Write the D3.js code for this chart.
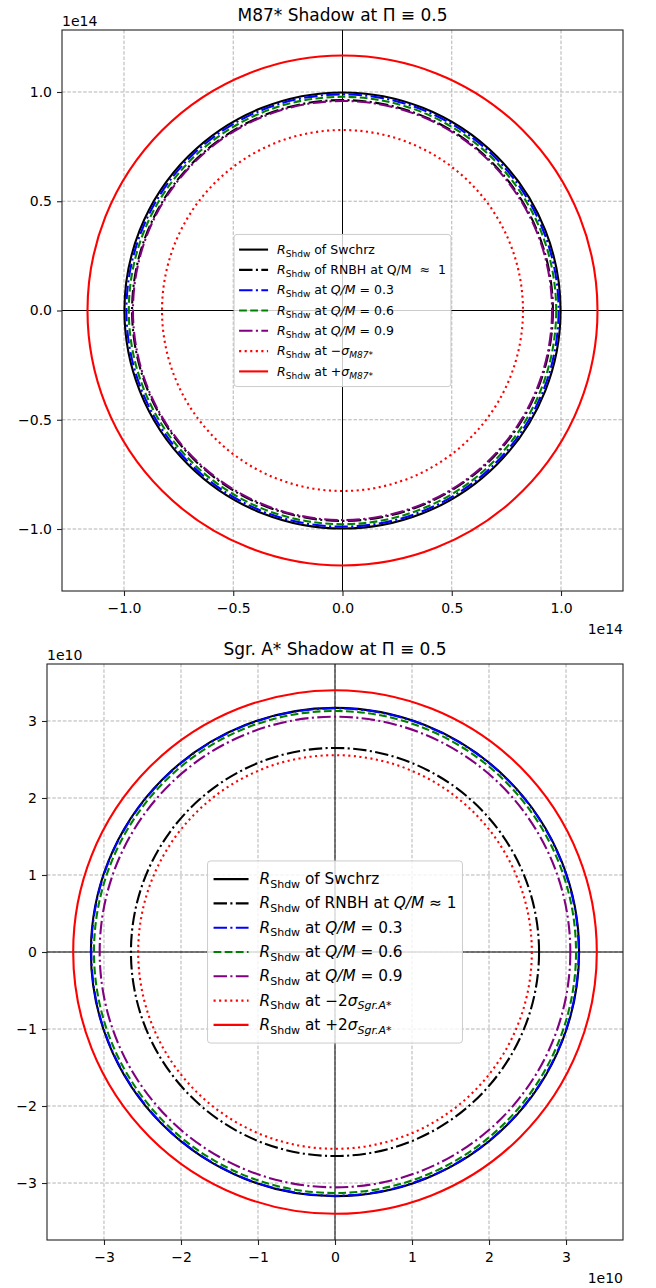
<!DOCTYPE html>
<html>
<head>
<meta charset="utf-8">
<script src="https://cdn.jsdelivr.net/npm/d3@7"></script>
<style>
  body { margin: 0; background: #fff; }
  text { font-family: "DejaVu Sans", sans-serif; white-space: pre; }
</style>
</head>
<body>
<div id="main"></div>
<script>
// shadow radii, order: Swchrz, RNBH, Q/M=0.3, 0.6, 0.9, -sigma, +sigma
const m87Radii = [0.998, 0.963, 0.989, 0.978, 0.959, 0.826, 1.167]; // x 1e14
const sgrRadii = [3.17, 2.65, 3.165, 3.13, 3.056, 2.556, 3.40];      // x 1e10

const seriesColors = ["black", "black", "blue", "green", "purple", "red", "red"];
const seriesStyles = ["solid", "dashdot", "dashdot", "dashed", "dashdot", "dotted", "solid"];

const m87Ticks = [-1.0, -0.5, 0, 0.5, 1.0];
const sgrTicks = [-3, -2, -1, 0, 1, 2, 3];

// label segments: [text, kind] kind: i = italic, sub = roman subscript, subi = italic subscript
const m87Labels = [
    [["R", "i"], ["Shdw", "sub"], [" of Swchrz"]],
    [["R", "i"], ["Shdw", "sub"], [" of RNBH at Q/M  \u2248  1"]],
    [["R", "i"], ["Shdw", "sub"], [" at "], ["Q/M", "i"], [" = 0.3"]],
    [["R", "i"], ["Shdw", "sub"], [" at "], ["Q/M", "i"], [" = 0.6"]],
    [["R", "i"], ["Shdw", "sub"], [" at "], ["Q/M", "i"], [" = 0.9"]],
    [["R", "i"], ["Shdw", "sub"], [" at \u2212"], ["\u03c3", "i"], ["M87*", "subi"]],
    [["R", "i"], ["Shdw", "sub"], [" at +"], ["\u03c3", "i"], ["M87*", "subi"]]
];
const sgrLabels = [
    [["R", "i"], ["Shdw", "sub"], [" of Swchrz"]],
    [["R", "i"], ["Shdw", "sub"], [" of RNBH at "], ["Q/M", "i"], [" \u2248 1"]],
    [["R", "i"], ["Shdw", "sub"], [" at "], ["Q/M", "i"], [" = 0.3"]],
    [["R", "i"], ["Shdw", "sub"], [" at "], ["Q/M", "i"], [" = 0.6"]],
    [["R", "i"], ["Shdw", "sub"], [" at "], ["Q/M", "i"], [" = 0.9"]],
    [["R", "i"], ["Shdw", "sub"], [" at \u22122"], ["\u03c3", "i"], ["Sgr.A*", "subi"]],
    [["R", "i"], ["Shdw", "sub"], [" at +2"], ["\u03c3", "i"], ["Sgr.A*", "subi"]]
];

const W = 656, H = 1288;
const LW = 2.1;
const dashes = {
    solid: null,
    dashed: [3.7, 1.6].map(v => v * LW).join(","),
    dashdot: [6.4, 1.6, 1, 1.6].map(v => v * LW).join(","),
    dotted: [1, 1.65].map(v => v * LW).join(",")
};

const svg = d3.select("#main").append("svg")
    .attr("width", W)
    .attr("height", H);

function drawPanel(cfg) {
    const lim = d3.max(cfg.radii) * 1.1;
    const x = d3.scaleLinear().domain([-lim, lim]).range([cfg.x0, cfg.x0 + cfg.size]);
    const y = d3.scaleLinear().domain([-lim, lim]).range([cfg.y0 + cfg.size, cfg.y0]);
    const g = svg.append("g");

    const clipId = "clip" + cfg.id;
    g.append("clipPath").attr("id", clipId)
        .append("rect")
        .attr("x", cfg.x0).attr("y", cfg.y0)
        .attr("width", cfg.size).attr("height", cfg.size);

    // grid
    g.selectAll("line.gx").data(cfg.ticks).enter().append("line")
        .attr("x1", d => x(d)).attr("x2", d => x(d))
        .attr("y1", cfg.y0).attr("y2", cfg.y0 + cfg.size)
        .attr("stroke", "#a0a0a0").attr("stroke-width", 0.8)
        .attr("stroke-dasharray", "3.5,1.8");
    g.selectAll("line.gy").data(cfg.ticks).enter().append("line")
        .attr("y1", d => y(d)).attr("y2", d => y(d))
        .attr("x1", cfg.x0).attr("x2", cfg.x0 + cfg.size)
        .attr("stroke", "#a0a0a0").attr("stroke-width", 0.8)
        .attr("stroke-dasharray", "3.5,1.8");

    // zero lines
    g.append("line")
        .attr("x1", x(0)).attr("x2", x(0))
        .attr("y1", cfg.y0).attr("y2", cfg.y0 + cfg.size)
        .attr("stroke", "black").attr("stroke-width", 1);
    g.append("line")
        .attr("y1", y(0)).attr("y2", y(0))
        .attr("x1", cfg.x0).attr("x2", cfg.x0 + cfg.size)
        .attr("stroke", "black").attr("stroke-width", 1);

    // circles
    g.append("g").attr("clip-path", `url(#${clipId})`)
        .selectAll("circle").data(cfg.radii).enter().append("circle")
        .attr("cx", x(0)).attr("cy", y(0))
        .attr("r", d => x(d) - x(0))
        .attr("fill", "none")
        .attr("stroke", (d, i) => seriesColors[i])
        .attr("stroke-width", LW)
        .attr("stroke-dasharray", (d, i) => dashes[seriesStyles[i]]);

    // spines
    g.append("rect")
        .attr("x", cfg.x0).attr("y", cfg.y0)
        .attr("width", cfg.size).attr("height", cfg.size)
        .attr("fill", "none").attr("stroke", "#222").attr("stroke-width", 1.1);

    // axes
    const xAxis = g.append("g")
        .attr("transform", `translate(0,${cfg.y0 + cfg.size})`)
        .call(d3.axisBottom(x).tickValues(cfg.ticks).tickFormat(cfg.fmt).tickSize(5).tickPadding(7).tickSizeOuter(0));
    const yAxis = g.append("g")
        .attr("transform", `translate(${cfg.x0},0)`)
        .call(d3.axisLeft(y).tickValues(cfg.ticks).tickFormat(cfg.fmt).tickSize(5).tickPadding(5).tickSizeOuter(0));
    [xAxis, yAxis].forEach(a => {
        a.select(".domain").remove();
        a.selectAll("line").attr("stroke", "#222").attr("stroke-width", 1.1);
        a.selectAll("text").attr("font-size", 14).attr("fill", "black")
            .attr("font-family", "DejaVu Sans");
    });

    // title and offset texts
    g.append("text")
        .attr("x", cfg.x0 + cfg.size / 2).attr("y", cfg.y0 - 9)
        .attr("text-anchor", "middle").attr("font-size", 17)
        .text(cfg.title);
    g.append("text")
        .attr("x", cfg.x0).attr("y", cfg.y0 - 4.5)
        .attr("font-size", 14).text(cfg.offset);
    g.append("text")
        .attr("x", cfg.x0 + cfg.size).attr("y", cfg.y0 + cfg.size + 42.5)
        .attr("text-anchor", "end").attr("font-size", 14).text(cfg.offset);

    // legend
    const L = cfg.legend;
    const lg = g.append("g");
    const box = lg.append("rect");
    const n = cfg.labels.length;
    const texts = [];
    cfg.labels.forEach((segs, i) => {
        const t = lg.append("text").attr("font-size", L.fs);
        let shifted = 0;
        segs.forEach(([s, kind]) => {
            const sp = t.append("tspan").text(s);
            const isSub = kind === "sub" || kind === "subi";
            if (kind === "i" || kind === "subi") sp.attr("font-style", "italic");
            if (isSub) sp.attr("font-size", L.fs * 0.72);
            const want = isSub ? L.fs * 0.24 : 0;
            if (want !== shifted) {
                sp.attr("dy", want - shifted);
                shifted = want;
            }
        });
        texts.push(t);
    });
    const maxW = d3.max(texts, t => t.node().getComputedTextLength());
    const bw = L.pad + L.handle + L.gap + maxW + L.pad;
    const bh = L.pad * 2 + n * L.row;
    const bx = x(0) - bw / 2, by = y(0) - bh / 2;
    box.attr("x", bx).attr("y", by).attr("width", bw).attr("height", bh)
        .attr("rx", 3).attr("fill", "white").attr("fill-opacity", 0.8)
        .attr("stroke", "#cccccc").attr("stroke-width", 1);
    texts.forEach((t, i) => {
        const cy = by + L.pad + L.row * (i + 0.5);
        t.attr("x", bx + L.pad + L.handle + L.gap).attr("y", cy + L.fs * 0.33);
        lg.append("line")
            .attr("x1", bx + L.pad).attr("x2", bx + L.pad + L.handle)
            .attr("y1", cy).attr("y2", cy)
            .attr("stroke", seriesColors[i]).attr("stroke-width", LW)
            .attr("stroke-dasharray", dashes[seriesStyles[i]]);
    });
}

drawPanel({
    id: "m87", x0: 62, y0: 30, size: 561,
    radii: m87Radii, ticks: m87Ticks, fmt: d3.format(".1f"),
    title: "M87* Shadow at \u03a0 \u2261 0.5", offset: "1e14",
    labels: m87Labels,
    legend: { fs: 12.5, pad: 5, handle: 29, gap: 9, row: 20.3 }
});

drawPanel({
    id: "sgr", x0: 47, y0: 664, size: 576,
    radii: sgrRadii, ticks: sgrTicks, fmt: d3.format("d"),
    title: "Sgr. A* Shadow at \u03a0 \u2261 0.5", offset: "1e10",
    labels: sgrLabels,
    legend: { fs: 15.3, pad: 6, handle: 35, gap: 11, row: 24.3 }
});
</script>
</body>
</html>
